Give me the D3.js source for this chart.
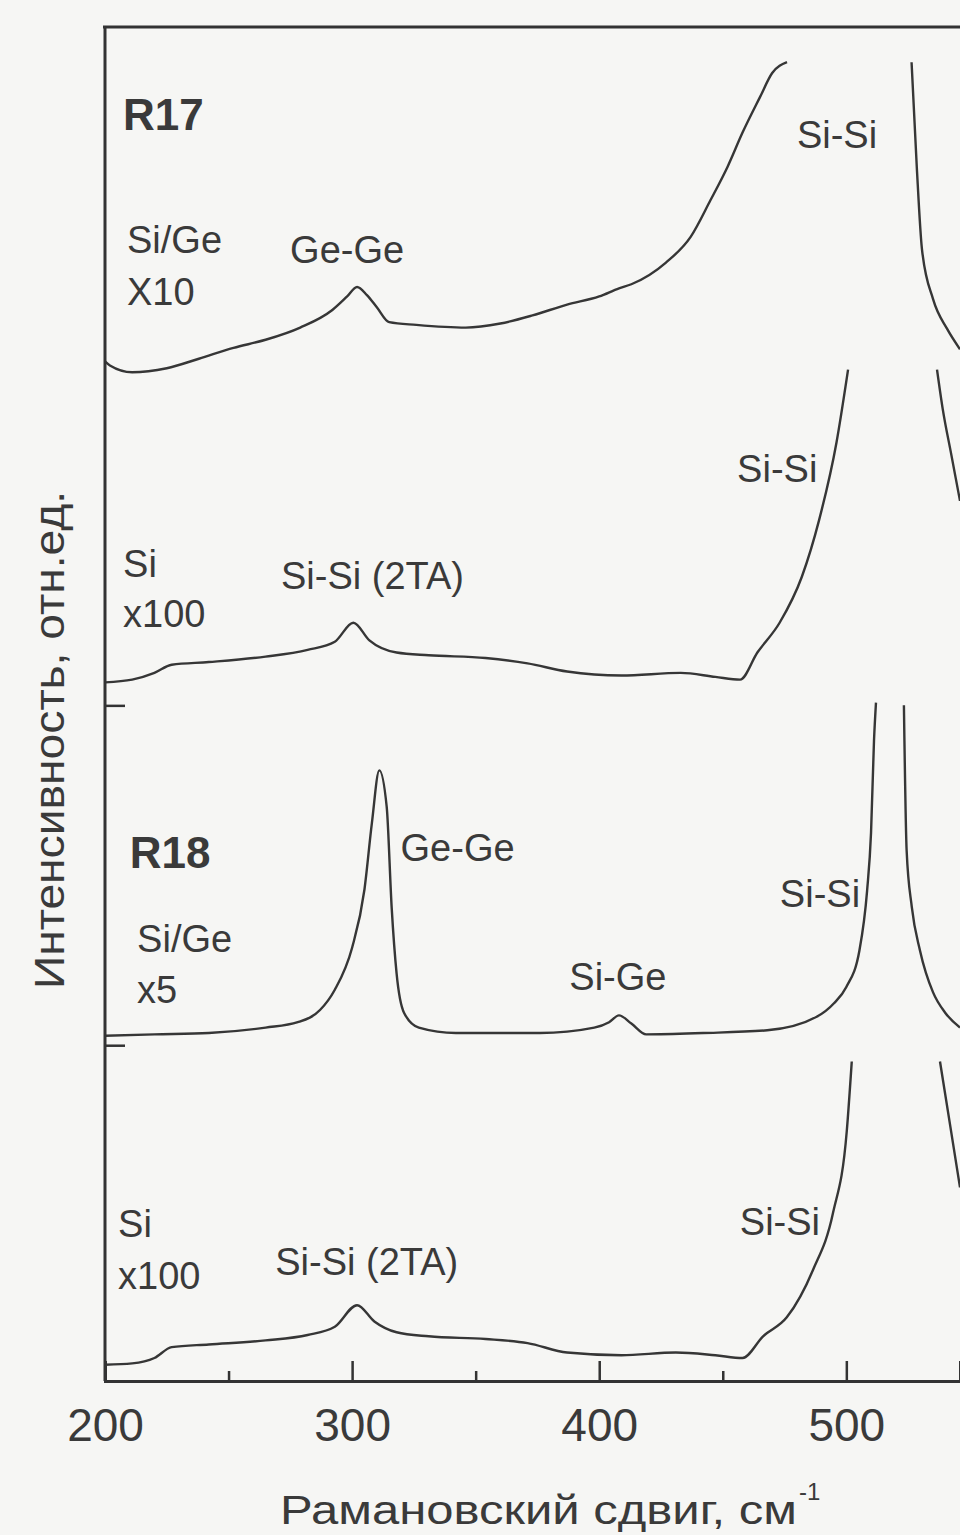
<!DOCTYPE html>
<html><head><meta charset="utf-8">
<script src="https://cdn.jsdelivr.net/npm/d3@7"></script>
<style>
body{margin:0;background:#f6f6f4}
text{font-family:"Liberation Sans",Arial,sans-serif;fill:#3a3a3a}
</style>
</head><body>
<svg id="chart" width="960" height="1535"></svg>
<script>
// Raman shift (cm^-1) and intensity (arb. units, offset stacked). null = off-scale Si peak
const r17SiGeShift = [200,202,211,225,238,252,265,279,292,298,302,306,310,315,326,346,360,373,387,400,408,413,427,437,445,452,458,465,470,476,520,526.4,528.5,530.6,535.1,540.8,546];
const r17SiGeInt   = [75.3,75.0,74.5,74.8,75.5,76.3,76.9,77.8,79.1,80.1,80.8,80.2,79.3,78.2,78.0,77.8,78.1,78.7,79.5,80.1,80.7,81.0,82.6,84.5,87.2,89.7,92.2,94.8,96.6,97.4,null,97.4,89.7,83.6,79.9,77.7,76.2];

const r17SiShift = [200,211,220,227,242,265,282,293,300.5,307,318,331,354,371,387,409,433,447,457,464,473,482,489,496,500.7,520,536.7,539,542.5,546];
const r17SiInt   = [51.6,51.8,52.3,52.9,53.1,53.5,54.0,54.6,56.0,54.7,53.8,53.6,53.4,53.0,52.4,52.1,52.3,52.0,51.8,53.8,56.0,59.4,63.6,69.3,74.7,null,74.7,71.8,68.4,65.0];

const r18SiGeShift = [200,220,242,265,278,287,293,300,305,308,311,314,316,318,321,327,342,376,398,404,408,413,419,442,468,488,495,500,505.3,508.4,510,511.2,512,518,523.3,524.4,526.5,529.8,535.1,540,546];
const r18SiGeInt   = [25.5,25.6,25.7,26.1,26.5,27.4,28.9,32.0,36.3,41.2,45.1,42.4,35.0,30.1,27.2,26.1,25.7,25.7,26.1,26.5,27.0,26.4,25.6,25.7,25.9,26.9,27.9,29.1,31.8,36.2,40.5,47.3,50.1,null,49.9,39.2,35.0,31.8,28.7,27.2,26.1];

const r18SiShift = [200,211,220,227,242,265,282,293,302,309,318,331,354,371,387,409,431,447,458,466.3,475.9,486.5,494.6,500.2,502.2,520,537.9,542,546];
const r18SiInt   = [1.2,1.3,1.7,2.5,2.7,3.0,3.4,4.0,5.6,4.4,3.6,3.3,3.1,2.8,2.1,1.9,2.1,1.9,1.7,3.3,4.7,8.2,12.4,18.5,23.6,null,23.6,18.9,14.3];

const seriesList = [
  [r17SiGeShift, r17SiGeInt],
  [r17SiShift, r17SiInt],
  [r18SiGeShift, r18SiGeInt],
  [r18SiShift, r18SiInt]
];

const majorTicks = [200,300,400,500];
const minorTicks = [250,350,450];
const baselineTicks = [24.8, 49.9];

// annotations: [text, shift (cm^-1), intensity, bold]
const annotations = [
  ["R17",207.3,92.4,true],
  ["Si/Ge",208.9,83.3,false],
  ["X10",208.9,79.5,false],
  ["Ge-Ge",274.9,82.6,false],
  ["Si-Si",480,91.1,false],
  ["Si-Si",455.8,66.4,false],
  ["Si",207.3,59.4,false],
  ["x100",207.3,55.7,false],
  ["Si-Si (2TA)",271.2,58.5,false],
  ["R18",210,37.9,true],
  ["Ge-Ge",319.6,38.4,false],
  ["Si-Si",473.1,35.0,false],
  ["Si/Ge",213,31.7,false],
  ["x5",213,27.9,false],
  ["Si-Ge",387.9,28.9,false],
  ["Si",205.3,10.6,false],
  ["x100",205.3,6.8,false],
  ["Si-Si (2TA)",268.9,7.8,false],
  ["Si-Si",456.9,10.8,false]
];

const svg = d3.select("#chart");
const L = 105, R = 960, T = 27, B = 1381;
const x = d3.scaleLinear().domain([200,546]).range([L,R]);
const y = d3.scaleLinear().domain([0,100]).range([B,T]);

svg.append("defs").append("clipPath").attr("id","clip")
  .append("rect").attr("x",L).attr("y",T).attr("width",R-L+5).attr("height",B-T);

const line = d3.line()
  .defined(d => d[1] != null)
  .x(d => x(d[0])).y(d => y(d[1]))
  .curve(d3.curveMonotoneX);

const g = svg.append("g").attr("clip-path","url(#clip)");
seriesList.forEach(([sx, sy]) => {
  const pts = sx.map((v,i) => [v, sy[i]]);
  g.append("path").datum(pts)
    .attr("d", line)
    .attr("fill","none").attr("stroke","#363636")
    .attr("stroke-width",2.4).attr("stroke-linejoin","round");
});

// frame
svg.append("line").attr("x1",L-2).attr("x2",R+5).attr("y1",T).attr("y2",T)
  .attr("stroke","#333").attr("stroke-width",3);

// x axis
const xAxis = d3.axisBottom(x).tickValues(majorTicks).tickSize(-20).tickPadding(27).tickFormat(d3.format("d"));
const gx = svg.append("g").attr("transform",`translate(0,${B})`).call(xAxis);
gx.select(".domain").attr("stroke","#333").attr("stroke-width",3);
gx.selectAll(".tick line").attr("stroke","#333").attr("stroke-width",2.5);
gx.selectAll(".tick text").attr("font-size",46).attr("fill","#3a3a3a")
  .attr("font-family","Liberation Sans, Arial, sans-serif");
const gxm = svg.append("g").attr("transform",`translate(0,${B})`)
  .call(d3.axisBottom(x).tickValues(minorTicks).tickSize(-10).tickFormat(""));
gxm.select(".domain").remove();
gxm.selectAll(".tick line").attr("stroke","#333").attr("stroke-width",2.5);

// y axis
const gy = svg.append("g").attr("transform",`translate(${L},0)`)
  .call(d3.axisLeft(y).tickValues(baselineTicks).tickSize(-20).tickFormat(""));
gy.select(".domain").attr("stroke","#333").attr("stroke-width",3)
  .attr("d",`M0,${T}V${B}`);
gy.selectAll(".tick line").attr("stroke","#333").attr("stroke-width",2.5);

// annotations
svg.append("g").selectAll("text").data(annotations).join("text")
  .attr("x", d => x(d[1])).attr("y", d => y(d[2]))
  .attr("font-size", d => d[3] ? 44 : 38)
  .attr("font-weight", d => d[3] ? "bold" : "normal")
  .text(d => d[0]);

// axis titles
svg.append("text").attr("x",280).attr("y",1524)
  .attr("font-size",40).attr("textLength",517).attr("lengthAdjust","spacingAndGlyphs")
  .text("Рамановский сдвиг, см");
svg.append("text").attr("x",799).attr("y",1500)
  .attr("font-size",24).text("-1");

svg.append("text")
  .attr("transform","translate(64,740) rotate(-90)")
  .attr("text-anchor","middle").attr("font-size",42)
  .attr("textLength",498).attr("lengthAdjust","spacingAndGlyphs")
  .text("Интенсивность, отн.ед.");
</script>
</body></html>
